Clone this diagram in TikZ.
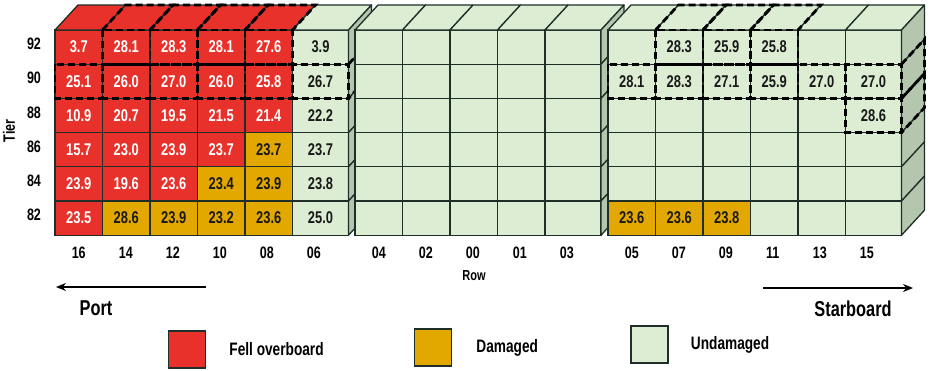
\documentclass[tikz,border=0pt]{standalone}
\usepackage{fontspec}
\setmainfont{Liberation Sans}[FakeStretch=0.76]
\usetikzlibrary{arrows.meta,positioning}

\definecolor{fellred}{HTML}{E8312A}
\definecolor{dmgyellow}{HTML}{E3A800}
\definecolor{undgreen}{HTML}{DCEDD4}
\definecolor{sidegreen}{HTML}{B4C6AD}
\definecolor{edgeline}{HTML}{1F2E28}

\tikzset{
  cell/.style={draw=edgeline,line width=1.3pt,minimum height=34.2pt,inner sep=0pt,outer sep=0pt,
    font=\bfseries\fontsize{17}{17}\selectfont,text=black!90},
  F/.style={fill=fellred,text=white},
  D/.style={fill=dmgyellow},
  U/.style={fill=undgreen},
  face/.style={draw=edgeline,line width=1.3pt,line join=round},
  side/.style={face,fill=sidegreen},
  hilite/.style={line width=2.8pt,dash pattern=on 7pt off 4pt},
  lbl/.style={font=\bfseries\fontsize{16.5}{17}\selectfont},
  bigl/.style={font=\bfseries\fontsize{21.5}{22}\selectfont},
  keybox/.style={draw=edgeline,line width=1.4pt,minimum size=37pt,inner sep=0pt},
  keylbl/.style={font=\bfseries\fontsize{18}{18}\selectfont,inner sep=0pt},
  arrowline/.style={line width=1.5pt,-{Stealth[length=10pt,width=8pt]}},
}

% one stack of containers: #1 name, #2 left edge, #3 columns, #4 tiers
\newcommand\drawblock[4]{%
  \foreach \tier/\cells [count=\r] in {#4} {
    \foreach \kind/\val/\hl [count=\c] in \cells {
      \pgfmathsetmacro\cw{\c==#3 ? 56 : 47.5}
      \pgfmathsetmacro\cx{#2+(\c-1)*47.5+\cw/2}
      \pgfmathsetmacro\cy{30+(\r-0.5)*34.2}
      \node[cell,\kind,minimum width=\cw pt] (#1-\tier-\c) at (\cx,\cy) {\val};
      \ifnum\r=1
        \draw[face,\kind] (#1-\tier-\c.north west) -- (#1-\tier-\c.north east)
          -- ++(23,-25) -- ++(-\cw,0) -- cycle;
      \fi
      \ifnum\c=#3
        \draw[side] (#1-\tier-\c.north east) -- ++(23,-25) -- ++(0,34.2)
          -- (#1-\tier-\c.south east) -- cycle;
      \fi
    }
  }
  % dashed outlines
  \foreach \tier/\cells [count=\r] in {#4} {
    \foreach \kind/\val/\hl [count=\c] in \cells {
      \ifnum\hl=1
        \pgfmathsetmacro\cw{\c==#3 ? 56 : 47.5}
        \draw[hilite] (#1-\tier-\c.north west) rectangle (#1-\tier-\c.south east);
        \ifnum\r=1
          \draw[hilite] (#1-\tier-\c.north west) -- ++(23,-25) -- ++(\cw,0) -- (#1-\tier-\c.north east);
        \fi
        \ifnum\c=#3
          \draw[hilite] (#1-\tier-\c.north east) -- ++(23,-25) -- ++(0,34.2) -- (#1-\tier-\c.south east);
        \fi
      \fi
    }
  }
}

\begin{document}
\begin{tikzpicture}[x=1pt,y=-1pt]
\useasboundingbox (0,0) rectangle (931,370);

% port stack
\drawblock{A}{55}{6}{%
92/{F/3.7/0,F/28.1/1,F/28.3/1,F/28.1/1,F/27.6/1,U/3.9/0},
90/{F/25.1/1,F/26.0/1,F/27.0/1,F/26.0/1,F/25.8/1,U/26.7/1},
88/{F/10.9/0,F/20.7/0,F/19.5/0,F/21.5/0,F/21.4/0,U/22.2/0},
86/{F/15.7/0,F/23.0/0,F/23.9/0,F/23.7/0,D/23.7/0,U/23.7/0},
84/{F/23.9/0,F/19.6/0,F/23.6/0,D/23.4/0,D/23.9/0,U/23.8/0},
82/{F/23.5/0,D/28.6/0,D/23.9/0,D/23.2/0,D/23.6/0,U/25.0/0}}

% middle stack
\drawblock{B}{355}{5}{%
92/{U//0,U//0,U//0,U//0,U//0},
90/{U//0,U//0,U//0,U//0,U//0},
88/{U//0,U//0,U//0,U//0,U//0},
86/{U//0,U//0,U//0,U//0,U//0},
84/{U//0,U//0,U//0,U//0,U//0},
82/{U//0,U//0,U//0,U//0,U//0}}

% starboard stack
\drawblock{C}{608}{6}{%
92/{U//0,U/28.3/1,U/25.9/1,U/25.8/1,U//0,U//0},
90/{U/28.1/1,U/28.3/1,U/27.1/1,U/25.9/1,U/27.0/1,U/27.0/1},
88/{U//0,U//0,U//0,U//0,U//0,U/28.6/1},
86/{U//0,U//0,U//0,U//0,U//0,U//0},
84/{U//0,U//0,U//0,U//0,U//0,U//0},
82/{D/23.6/0,D/23.6/0,D/23.8/0,U//0,U//0,U//0}}

% tiers and rows
\foreach \t [count=\r] in {92,90,88,86,84,82}
  \node[lbl] (tier-\t) at (34,{30+(\r-0.5)*34.2-3}) {\t};
\node[lbl,rotate=90] (tierlbl) at (9,131) {Tier};
\foreach \n [count=\c] in {16,14,12,10,08,06}
  \node[lbl] (row-\n) at ({78.75+(\c-1)*47},253) {\n};
\foreach \n [count=\c] in {04,02,00,01,03}
  \node[lbl] (row-\n) at ({378.75+(\c-1)*47},253) {\n};
\foreach \n [count=\c] in {05,07,09,11,13,15}
  \node[lbl] (row-\n) at ({631.75+(\c-1)*47},253) {\n};
\node[font=\bfseries\fontsize{14.5}{15}\selectfont] (rowlbl) at (474,276) {Row};

% directions
\coordinate (port-a) at (206,287);
\coordinate (port-b) at (56,287);
\draw[arrowline] (port-a) -- (port-b);
\node[bigl] (port) at (96,308) {Port};
\coordinate (stbd-a) at (763,288);
\coordinate (stbd-b) at (913,288);
\draw[arrowline] (stbd-a) -- (stbd-b);
\node[bigl] (stbd) at (853,309) {Starboard};

% legend
\node[keybox,fill=fellred] (key-fell) at (187,349.5) {};
\node[keylbl,right=23pt of key-fell] (lbl-fell) {Fell overboard};
\node[keybox,fill=dmgyellow] (key-dmg) at (433,347.5) {};
\node[keylbl,right=24pt of key-dmg] (lbl-dmg) {Damaged};
\node[keybox,fill=undgreen] (key-und) at (649.5,344.5) {};
\node[keylbl,right=22pt of key-und] (lbl-und) {Undamaged};
\end{tikzpicture}
\end{document}
